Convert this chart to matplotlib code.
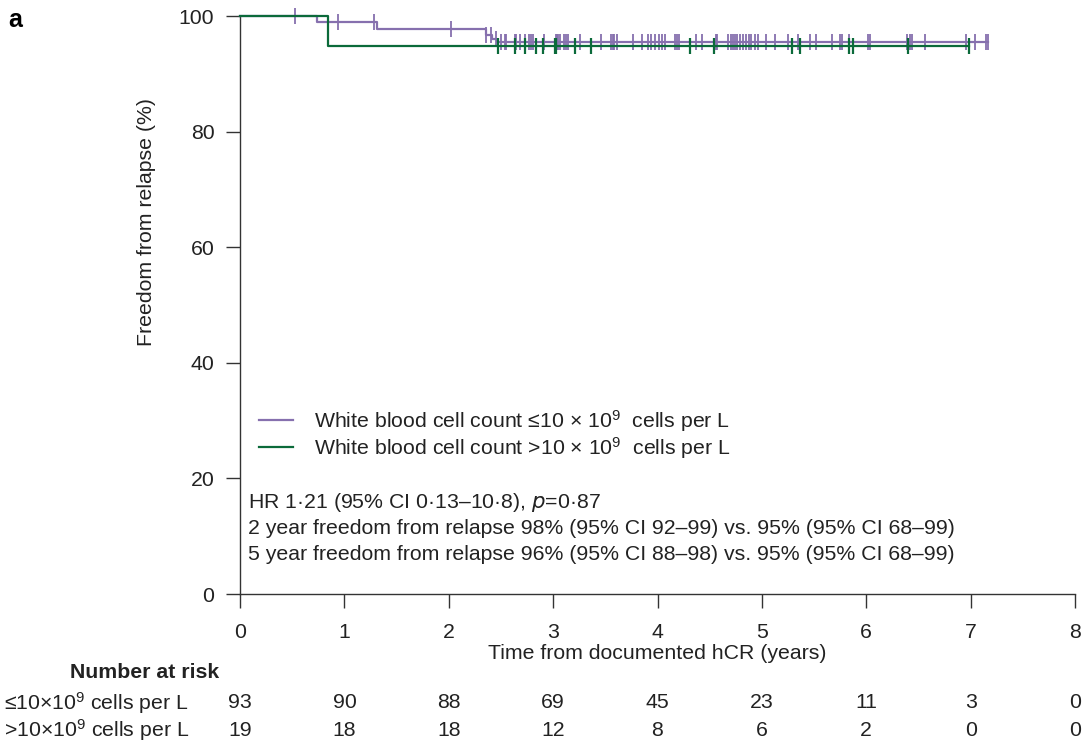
import numpy as np
import matplotlib
matplotlib.use('Agg')
import matplotlib.pyplot as plt
from matplotlib.transforms import blended_transform_factory
from matplotlib.lines import Line2D

plt.rcParams['font.family'] = ['Liberation Sans', 'DejaVu Sans']
plt.rcParams['mathtext.fontset'] = 'custom'
plt.rcParams['mathtext.rm'] = 'Liberation Sans'
plt.rcParams['mathtext.default'] = 'regular'

# step curves (time in years, freedom from relapse %)
low_t = [0, 0.74, 1.31, 2.36, 2.41, 2.46, 7.17]
low_s = [100, 98.9, 97.7, 96.7, 96.1, 95.55, 95.55]
high_t = [0, 0.84, 6.98]
high_s = [100, 94.74, 94.74]

# censor times
low_cens = [0.53, 0.94, 1.28, 2.02, 2.36, 2.40, 2.45,
            2.50, 2.54, 2.55, 2.63, 2.64, 2.68, 2.73, 2.77, 2.79, 2.81, 2.91,
            3.03, 3.04, 3.05, 3.07, 3.10, 3.12, 3.14, 3.26, 3.46, 3.55, 3.57,
            3.58, 3.61, 3.77, 3.85, 3.91, 3.94, 3.98, 4.01, 4.04, 4.07, 4.17,
            4.19, 4.21, 4.37, 4.43, 4.56, 4.57, 4.68, 4.70, 4.72, 4.74, 4.76,
            4.79, 4.82, 4.85, 4.88, 4.90, 4.93, 4.96, 5.04, 5.13, 5.25, 5.35,
            5.46, 5.52, 5.67, 5.75, 5.77, 5.83, 6.02, 6.04, 6.39, 6.42, 6.44,
            6.56, 6.96, 7.04, 7.15, 7.17]
high_cens = [2.47, 2.63, 2.73, 2.84, 2.90, 3.02, 3.03, 3.21, 3.36, 4.31,
             4.54, 5.29, 5.37, 5.83, 5.87, 6.40, 6.98]

years = [0, 1, 2, 3, 4, 5, 6, 7, 8]
risk_low = [93, 90, 88, 69, 45, 23, 11, 3, 0]
risk_high = [19, 18, 18, 12, 8, 6, 2, 0, 0]

purple = '#8670AE'
green = '#0B6A3A'
fs = 15.3


def at(t, st, ss):
    idx = np.searchsorted(st, t, side='right') - 1
    return np.asarray(ss)[idx]


fig = plt.figure(figsize=(10.92, 7.46), dpi=100)
ax = fig.add_axes([240 / 1092, 1 - 594 / 746, 835 / 1092, 578 / 746])

ax.step(low_t, low_s, where='post', color=purple, lw=1.6, clip_on=False, zorder=3)
ax.plot(low_cens, at(low_cens, low_t, low_s), ls='none', marker='|',
        ms=11, mew=1.3, color=purple, clip_on=False, zorder=3)
ax.step(high_t, high_s, where='post', color=green, lw=1.6, clip_on=False, zorder=4)
ax.plot(high_cens, at(high_cens, high_t, high_s), ls='none', marker='|',
        ms=11, mew=1.6, color=green, clip_on=False, zorder=4)

ax.set_xlim(0, 8)
ax.set_ylim(0, 100)
ax.set_xticks(years)
ax.set_yticks([0, 20, 40, 60, 80, 100])
for s in ['top', 'right']:
    ax.spines[s].set_visible(False)
for s in ['left', 'bottom']:
    ax.spines[s].set_color('#333333')
    ax.spines[s].set_linewidth(1.0)
ax.tick_params(direction='out', length=10, width=1.0, color='#333333',
               labelsize=fs, labelcolor='#222222')
ax.tick_params(axis='x', pad=11)
ax.tick_params(axis='y', pad=8.5)
ax.set_xlabel('Time from documented hCR (years)', fontsize=fs, labelpad=1,
              color='#222222')
ax.set_ylabel('Freedom from relapse (%)', fontsize=fs, color='#222222')
ax.yaxis.set_label_coords(-0.1, (594 - 222) / 578)

handles = [Line2D([], [], color=purple, lw=1.6), Line2D([], [], color=green, lw=1.6)]
labels = ['White blood cell count ≤10 × 10$^{9}$  cells per L',
          'White blood cell count >10 × 10$^{9}$  cells per L']
ax.legend(handles, labels, loc='upper left', bbox_to_anchor=(0.0, 0.355),
          frameon=False, fontsize=fs, handlelength=1.6, handletextpad=1.0,
          labelspacing=0.05, labelcolor='#222222')

notes = ['HR 1·21 (95% CI 0·13–10·8), $\\it{p}$=0·87',
         '2 year freedom from relapse 98% (95% CI 92–99) vs. 95% (95% CI 68–99)',
         '5 year freedom from relapse 96% (95% CI 88–98) vs. 95% (95% CI 68–99)']
for i, note in enumerate(notes):
    fig.text(248 / 1092, 1 - (502 + 26 * i) / 746, note, fontsize=fs,
             va='center', color='#222222')

tr = blended_transform_factory(ax.transData, fig.transFigure)
fig.text(145 / 1092, 1 - 673 / 746, 'Number at risk', fontsize=fs,
         fontweight='bold', ha='center', va='center', color='#222222')
fig.text(0.004, 1 - 703 / 746, '≤10×10$^{9}$ cells per L', fontsize=fs,
         va='center', color='#222222')
fig.text(0.004, 1 - 730 / 746, '>10×10$^{9}$ cells per L', fontsize=fs,
         va='center', color='#222222')
for i, yr in enumerate(years):
    ax.text(yr, 1 - 703 / 746, str(risk_low[i]), transform=tr, fontsize=fs,
            ha='center', va='center', color='#222222')
    ax.text(yr, 1 - 730 / 746, str(risk_high[i]), transform=tr, fontsize=fs,
            ha='center', va='center', color='#222222')

fig.text(0.008, 1 - 20 / 746, 'a', fontsize=18, fontweight='bold', va='center')

fig.savefig('out.png', dpi=100)
